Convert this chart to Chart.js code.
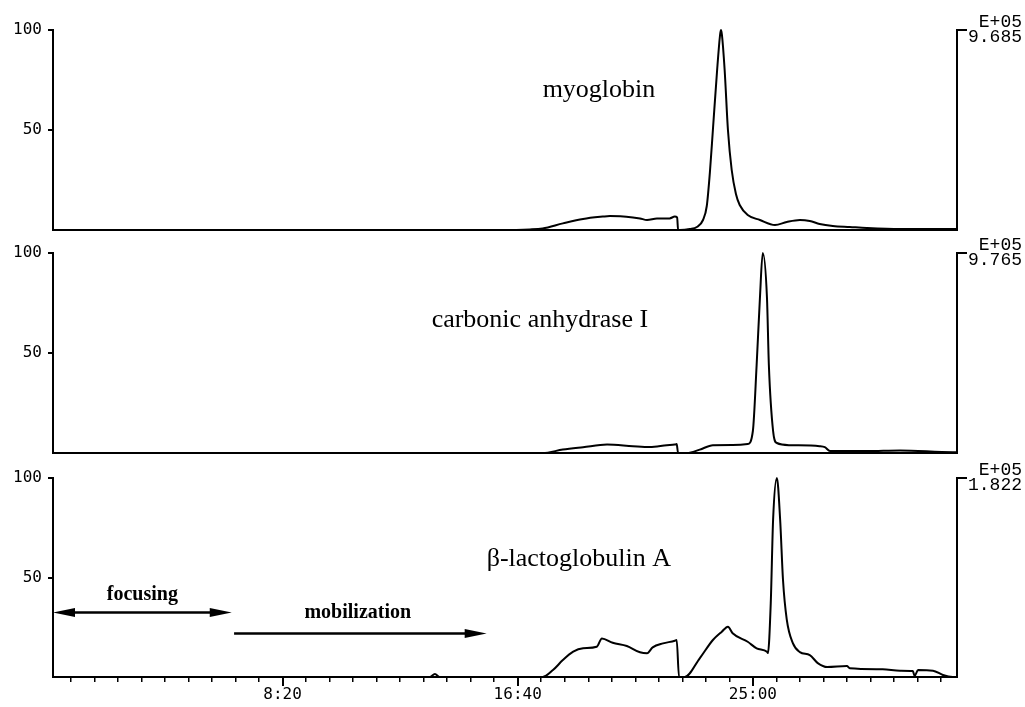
<!DOCTYPE html>
<html>
<head>
<meta charset="utf-8">
<title>Elution profiles</title>
<script src="https://cdn.jsdelivr.net/npm/chart.js@4.4.1/dist/chart.umd.min.js"></script>
<style>
  body { margin: 0; background: #fff; }
  #wrap { position: relative; width: 1025px; height: 707px; }
  #wrap canvas { position: absolute; left: 0; }
</style>
</head>
<body>
<div id="wrap">
  <canvas id="myo" width="1025" height="250" style="top:0px"></canvas>
  <canvas id="car" width="1025" height="250" style="top:223px"></canvas>
  <canvas id="lac" width="1025" height="259" style="top:448px"></canvas>
</div>
<script>
// time axis in seconds, signal in % of the panel maximum
const timeMin = 12, timeMax = 1934;
const tickValues = [500, 1000, 1500];
const tickLabels = ["8:20", "16:40", "25:00"];
const yTicks = [50, 100];

// myoglobin
const myoTime = [12, 962, 1026, 1053, 1096, 1139, 1181, 1196, 1245, 1260, 1275, 1296, 1323, 1334, 1339,
  1341, 1345, 1366, 1381, 1394, 1402, 1409, 1415, 1424, 1430, 1432, 1434, 1440, 1447, 1455,
  1464, 1472, 1489, 1515, 1547, 1572, 1600, 1621, 1642, 1670, 1706, 1742, 1813, 1925, 1934];
const myoSignal = [0, 0, 0.3, 0.8, 3.3, 5.5, 6.7, 7, 6.3, 5.8, 5, 5.7, 5.8, 6.7, 6.3,
  0, 0, 0.5, 1.5, 5, 12, 30, 50, 80, 97, 100, 98, 80, 50, 30,
  18, 12.5, 7.5, 5, 2.5, 4, 5, 4.5, 3, 2, 1.5, 1, 0.5, 0.5, 0.5];

// carbonic anhydrase I
const carTime = [12, 962, 1053, 1096, 1139, 1190, 1245, 1281, 1317, 1334, 1338, 1341, 1360, 1387, 1415,
  1457, 1489, 1500, 1508, 1515, 1521, 1530, 1534, 1543, 1551, 1579, 1642, 1653, 1664, 1742,
  1813, 1925, 1934];
const carSignal = [0, 0, 0, 1.7, 2.9, 4.2, 3.4, 3.0, 3.9, 4.2, 4.5, 0, 0, 1.7, 3.9,
  4, 4.5, 11, 44, 77.5, 100, 77.5, 44, 11, 5, 3.9, 3.4, 2.9, 1, 1,
  1.3, 0.4, 0.4];

// beta-lactoglobulin A
const lacTime = [12, 813, 824, 834, 1053, 1075, 1096, 1118, 1139, 1168, 1179, 1202, 1232, 1260, 1275,
  1287, 1309, 1334, 1338, 1343, 1355, 1387, 1415, 1434, 1447, 1457, 1489, 1508, 1530, 1532,
  1538, 1543, 1551, 1558, 1564, 1572, 1585, 1600, 1621, 1638, 1658, 1700, 1706, 1776, 1813,
  1840, 1844, 1851, 1883, 1904, 1925, 1934];
const lacSignal = [0, 0, 1.5, 0, 0, 3.5, 8.5, 12.7, 14.4, 15.2, 19.4, 17.2, 15.6, 12.4, 11.9,
  14.9, 16.9, 18.2, 18.6, 0, 0, 9.4, 18.6, 22.8, 25.3, 22, 17.7, 14.4, 12.7, 12,
  37, 79, 100, 79, 49, 29, 17, 12.5, 11, 7, 5, 5.5, 4.4, 3.9, 3.2,
  3, 0.5, 3.5, 3.2, 1, 0, 0];

// full-scale values shown on the right (x 1E+05)
const fullScale = ["9.685", "9.765", "1.822"];

const minorTicks = [];
for (let v = 50; v < timeMax; v += 50) minorTicks.push(v);

// texte et flèches dessinés par-dessus
const annotate = {
  id: "annotate",
  afterDraw(chart, args, opts) {
    const ctx = chart.ctx, xs = chart.scales.x, ys = chart.scales.y;
    ctx.save();
    ctx.fillStyle = "#000";
    ctx.strokeStyle = "#000";
    (opts.texts || []).forEach(t => {
      ctx.font = t.font;
      ctx.textAlign = t.align;
      ctx.textBaseline = "alphabetic";
      ctx.fillText(t.text, xs.getPixelForValue(t.x), ys.getPixelForValue(t.y));
    });
    (opts.arrows || []).forEach(a => {
      const x1 = xs.getPixelForValue(a.from), x2 = xs.getPixelForValue(a.to);
      const y = Math.round(ys.getPixelForValue(a.y)) + 0.5;
      ctx.lineWidth = 2.5;
      ctx.beginPath();
      ctx.moveTo(x1 + (a.both ? 10 : 0), y);
      ctx.lineTo(x2 - 10, y);
      ctx.stroke();
      const head = (tip, dir) => {
        ctx.beginPath();
        ctx.moveTo(tip, y);
        ctx.lineTo(tip - dir * 22, y - 4.5);
        ctx.lineTo(tip - dir * 22, y + 4.5);
        ctx.closePath();
        ctx.fill();
      };
      head(x2, 1);
      if (a.both) head(x1, -1);
    });
    // graduations principales plus longues
    if (opts.majorTicks) {
      ctx.lineWidth = 2;
      tickValues.forEach(v => {
        const x = Math.round(xs.getPixelForValue(v));
        ctx.beginPath();
        ctx.moveTo(x, chart.chartArea.bottom);
        ctx.lineTo(x, chart.chartArea.bottom + 9);
        ctx.stroke();
      });
    }
    ctx.restore();
  }
};

function panel(id, times, values, scaleText, isBottom, notes) {
  const ctx = document.getElementById(id).getContext("2d");
  return new Chart(ctx, {
    type: "line",
    data: {
      datasets: [{
        data: times.map((t, i) => ({ x: t, y: values[i] })),
        borderColor: "#000",
        borderWidth: 2,
        pointRadius: 0,
        fill: false,
        cubicInterpolationMode: "monotone",
        clip: false
      }]
    },
    options: {
      responsive: false,
      animation: false,
      events: [],
      layout: { padding: { top: 30, right: 3, bottom: 0, left: 0 } },
      plugins: {
        legend: { display: false },
        tooltip: { enabled: false },
        annotate: notes
      },
      scales: {
        x: {
          type: "linear",
          min: timeMin,
          max: timeMax,
          afterFit: s => { s.height = isBottom ? 30 : 20; },
          afterBuildTicks: s => { s.ticks = minorTicks.map(v => ({ value: v })); },
          grid: { drawOnChartArea: false, drawTicks: isBottom, tickLength: 5, color: "#000", lineWidth: 1.5 },
          border: { display: true, color: "#000", width: 2 },
          ticks: {
            display: isBottom,
            autoSkip: false,
            maxRotation: 0,
            padding: 3,
            color: "#000",
            font: { family: "DejaVu Sans Mono", size: 16 },
            callback: v => {
              const i = tickValues.indexOf(v);
              return i >= 0 ? tickLabels[i] : "";
            }
          }
        },
        y: {
          position: "left",
          min: 0,
          max: 100,
          afterFit: s => { s.width = 53; },
          afterBuildTicks: s => { s.ticks = yTicks.map(v => ({ value: v })); },
          grid: { drawOnChartArea: false, tickLength: 5, color: "#000", lineWidth: 2 },
          border: { color: "#000", width: 2 },
          ticks: { padding: 6, color: "#000", font: { family: "DejaVu Sans Mono", size: 16 } }
        },
        yR: {
          position: "right",
          min: 0,
          max: 100,
          afterFit: s => { s.width = 65; },
          afterBuildTicks: s => { s.ticks = [{ value: 100 }]; },
          grid: { drawOnChartArea: false, tickLength: 10, color: "#000", lineWidth: 2 },
          border: { color: "#000", width: 2 },
          ticks: {
            crossAlign: "far",
            color: "#000",
            font: { family: "Liberation Mono", size: 18, lineHeight: 0.85 },
            callback: () => ["E+05", scaleText]
          }
        }
      }
    },
    plugins: [annotate]
  });
}

const serif = "26px 'Liberation Serif', 'Times New Roman', serif";
const serifBold = "bold 20px 'Liberation Serif', 'Times New Roman', serif";

panel("myo", myoTime, myoSignal, fullScale[0], false, {
  texts: [{ text: "myoglobin", x: 1053, y: 66.5, align: "left", font: serif }]
});
panel("car", carTime, carSignal, fullScale[1], false, {
  texts: [{ text: "carbonic anhydrase I", x: 817, y: 63, align: "left", font: serif }]
});
panel("lac", lacTime, lacSignal, fullScale[2], true, {
  texts: [
    { text: "β-lactoglobulin A", x: 934, y: 55.8, align: "left", font: serif },
    { text: "focusing", x: 202, y: 38.7, align: "center", font: serifBold },
    { text: "mobilization", x: 660, y: 29.8, align: "center", font: serifBold }
  ],
  arrows: [
    { from: timeMin, to: 392, y: 32.7, both: true },
    { from: 397, to: 934, y: 22, both: false }
  ],
  majorTicks: true
});
</script>
</body>
</html>
